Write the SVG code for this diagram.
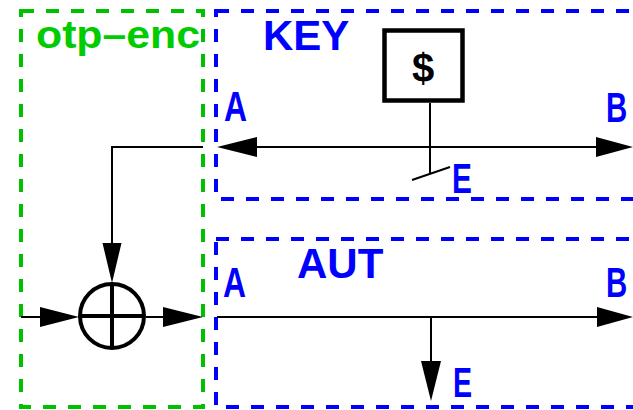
<svg xmlns="http://www.w3.org/2000/svg" width="633" height="410" viewBox="0 0 633 410">
<style>
.lbl{font-family:"Liberation Sans",Arial,sans-serif;font-weight:bold;fill:#0000ff;font-size:42px}
.grp{fill:none;stroke-width:4;stroke-dasharray:13 12}
.ln{fill:none;stroke:#000;stroke-width:2}
.ah{fill:#000;stroke:none}
</style>
<rect width="633" height="410" fill="#fff"/>
<g id="otp-enc">
<rect class="grp" x="21" y="11" width="182" height="396" stroke="#00c000"/>
<text x="36" y="48" font-family="Liberation Sans,Arial,sans-serif" font-weight="bold" font-size="39" fill="#00cc00" textLength="164" lengthAdjust="spacingAndGlyphs">otp–enc</text>
</g>
<g id="KEY">
<rect class="grp" x="216" y="11" width="440" height="188" stroke="#0000ff"/>
<text class="lbl" x="263" y="50">KEY</text>
<text class="lbl" transform="translate(224,121) scale(0.76,1)">A</text>
<text class="lbl" transform="translate(606,122) scale(0.7,1)">B</text>
<text class="lbl" transform="translate(452,193) scale(0.71,1)">E</text>
</g>
<g id="AUT">
<rect class="grp" x="216" y="239" width="440" height="168" stroke="#0000ff"/>
<text class="lbl" x="297" y="278" font-size="43">AUT</text>
<text class="lbl" transform="translate(223,297) scale(0.76,1)">A</text>
<text class="lbl" transform="translate(606,297) scale(0.7,1)">B</text>
<text class="lbl" transform="translate(453,397) scale(0.68,1)">E</text>
</g>
<g id="random">
<rect x="384.5" y="30.5" width="78" height="70" fill="#fff" stroke="#000" stroke-width="4.5"/>
<text x="423" y="82" text-anchor="middle" font-family="Liberation Sans,Arial,sans-serif" font-weight="bold" font-size="40" fill="#000">$</text>
</g>
<g id="xor">
<circle cx="112" cy="316" r="32" fill="none" stroke="#000" stroke-width="4"/>
<line x1="80" y1="316" x2="144" y2="316" stroke="#000" stroke-width="4"/>
<line x1="112" y1="284" x2="112" y2="348" stroke="#000" stroke-width="4"/>
</g>
<g id="connectors">
<line class="ln" x1="430" y1="103" x2="430" y2="173"/>
<line class="ln" x1="412" y1="180" x2="450" y2="167"/>
<line class="ln" x1="240" y1="147" x2="610" y2="147"/>
<polygon class="ah" points="217,147 257,137 257,157"/>
<polygon class="ah" points="633,147 596,137 596,157"/>
<polyline class="ln" points="203,147 112,147 112,260"/>
<polygon class="ah" points="112,283 102.5,243 121.5,243"/>
<line class="ln" x1="21" y1="317" x2="60" y2="317"/>
<polygon class="ah" points="79,317 40,307 40,327"/>
<line class="ln" x1="146" y1="317" x2="180" y2="317"/>
<polygon class="ah" points="203,317 163,307 163,327"/>
<line class="ln" x1="217" y1="317" x2="610" y2="317"/>
<polygon class="ah" points="633,317 597,307 597,327"/>
<line class="ln" x1="431" y1="317" x2="431" y2="380"/>
<polygon class="ah" points="431,401 421,361 441,361"/>
</g>
</svg>
